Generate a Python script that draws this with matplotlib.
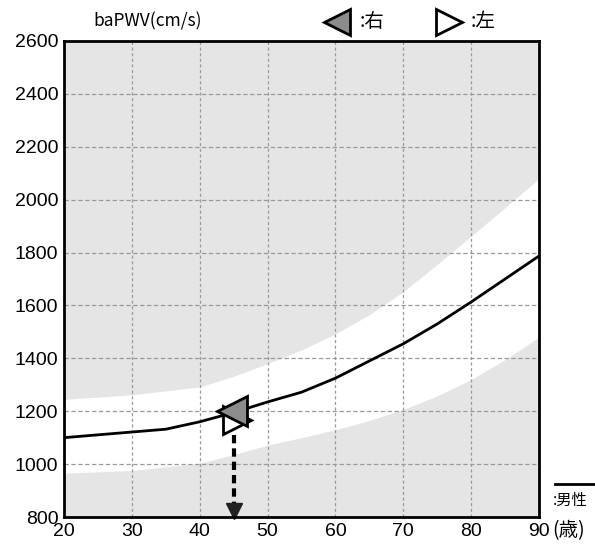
import numpy as np
import matplotlib
matplotlib.use("Agg")
from matplotlib import pyplot as plt

plt.rcParams['font.family'] = ['Liberation Sans', 'Noto Sans CJK JP', 'DejaVu Sans']

# standard curve (male)
line_ages = [20, 35, 40, 45, 50, 55, 60, 65, 70, 75, 80, 85, 90]
line_vals = [1100, 1132, 1160, 1195, 1235, 1272, 1325, 1390, 1455, 1530, 1613, 1700, 1787]

# normal range band
band_ages = [20, 30, 40, 45, 50, 55, 60, 65, 70, 75, 80, 85, 90]
band_upper = [1245, 1262, 1292, 1332, 1380, 1432, 1492, 1565, 1652, 1755, 1862, 1970, 2080]
band_lower = [966, 976, 1003, 1036, 1072, 1100, 1130, 1165, 1207, 1258, 1320, 1395, 1480]

# measured points
right_pt = (44.8, 1200)
left_pt = (45.5, 1168)
age_arrow = 45
arrow_top = 1110

xticks = [20, 30, 40, 50, 60, 70, 80, 90]
yticks = [800, 1000, 1200, 1400, 1600, 1800, 2000, 2200, 2400, 2600]

fig = plt.figure(figsize=(5.95, 5.49), dpi=100)
ax = fig.add_axes([64/595, 32/549, 475/595, 476/549])
ax.set_facecolor('#e5e5e5')
ax.fill_between(band_ages, band_lower, band_upper, color='white', lw=0, zorder=1)

for x in xticks[1:-1]:
    ax.axvline(x, color='#9a9a9a', lw=0.9, ls=(0, (2.5, 2)), zorder=2)
for y in yticks[1:-1]:
    ax.axhline(y, color='#9a9a9a', lw=0.9, ls=(0, (3.5, 2)), zorder=2)

ax.plot(line_ages, line_vals, color='black', lw=2, zorder=3)

# arrow down to age axis
ax.plot([age_arrow, age_arrow], [arrow_top, 830], color='black', lw=3,
        ls=(0, (2, 1.2)), zorder=4)
ax.plot(age_arrow, 822, marker='v', color='#222222', markersize=11, zorder=5, clip_on=False)

ax.plot(*left_pt, marker='>', markersize=20, markerfacecolor='white',
        markeredgecolor='black', markeredgewidth=2, zorder=6)
ax.plot(*right_pt, marker='<', markersize=22, markerfacecolor='#8c8c8c',
        markeredgecolor='black', markeredgewidth=2, zorder=7)

ax.set_xlim(20, 90)
ax.set_ylim(800, 2600)
ax.set_xticks(xticks)
ax.set_yticks(yticks)
ax.tick_params(length=0, labelsize=14, pad=4)
for s in ax.spines.values():
    s.set_linewidth(2)
    s.set_zorder(8)

# legend above the plot
ax.plot(0.575, 1.04, transform=ax.transAxes, marker='<', markersize=19, clip_on=False,
        markerfacecolor='#8c8c8c', markeredgecolor='black', markeredgewidth=2)
ax.text(0.622, 1.04, ':右', transform=ax.transAxes, fontsize=14, va='center',
        family=['Noto Sans CJK JP', 'DejaVu Sans'])
ax.plot(0.81, 1.04, transform=ax.transAxes, marker='>', markersize=19, clip_on=False,
        markerfacecolor='white', markeredgecolor='black', markeredgewidth=2)
ax.text(0.855, 1.04, ':左', transform=ax.transAxes, fontsize=14, va='center',
        family=['Noto Sans CJK JP', 'DejaVu Sans'])

fig.text(93/595, 1 - 21/549, 'baPWV(cm/s)', fontsize=12.5, va='center',
         family=['Noto Sans CJK JP', 'DejaVu Sans'])
fig.text(552/595, 1 - 531/549, '(歳)', fontsize=14, va='center',
         family=['Noto Sans CJK JP', 'DejaVu Sans'])

# male legend line, cut off at the right edge
fig.add_artist(plt.Line2D([555/595, 1.0], [1 - 484/549, 1 - 484/549], color='black', lw=2))
fig.text(553/595, 1 - 500/549, ':男性', fontsize=11, va='center',
         family=['Noto Sans CJK JP', 'DejaVu Sans'])

fig.savefig('out.png', dpi=100)
